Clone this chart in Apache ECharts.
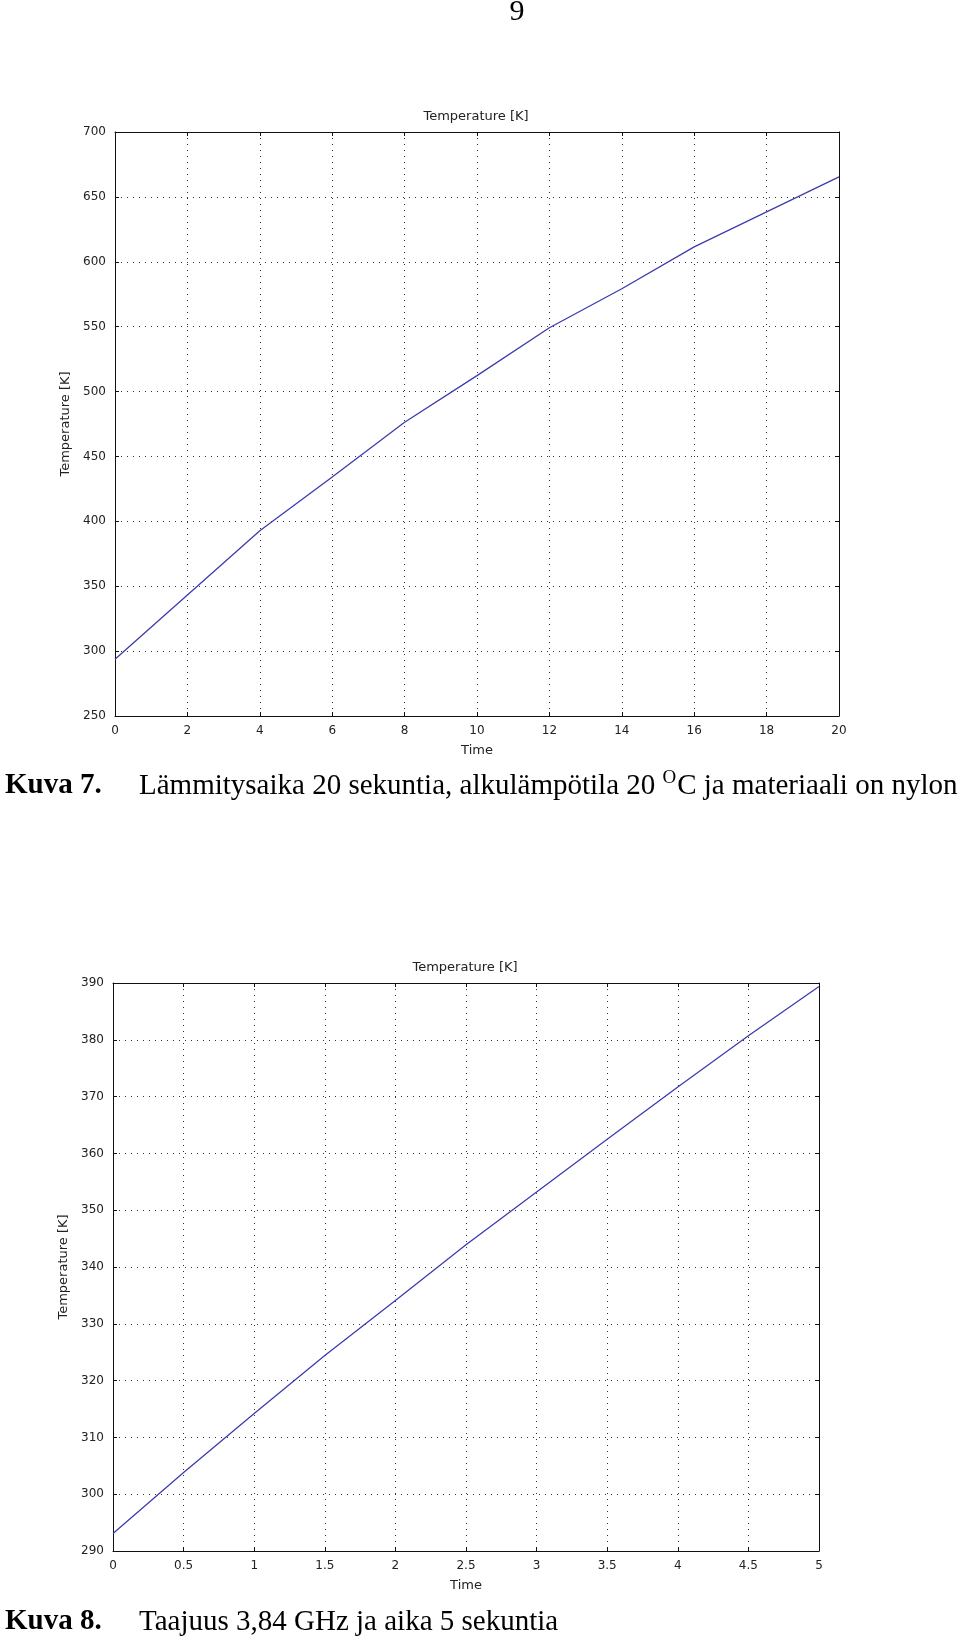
<!DOCTYPE html>
<html>
<head>
<meta charset="utf-8">
<script src="https://cdn.jsdelivr.net/npm/echarts@6/dist/echarts.min.js"></script>
<style>
html,body{margin:0;padding:0;background:#fff;}
#chart{width:960px;height:1640px;}
</style>
</head>
<body>
<div id="chart"></div>
<script>
// ---- Data: Kuva 7 (nylon, 20 s heating) ----
const time1 = [0, 2, 4, 6, 8, 10, 12, 14, 16, 18, 20];
const temp1 = [293.8, 343.3, 392.8, 434.1, 476.4, 512.3, 549.2, 579.2, 611.5, 638.5, 665.4];
const xTicks1 = [0, 2, 4, 6, 8, 10, 12, 14, 16, 18, 20];
const yTicks1 = [250, 300, 350, 400, 450, 500, 550, 600, 650, 700];

// ---- Data: Kuva 8 (3,84 GHz, 5 s) ----
const time2 = [0, 0.5, 1, 1.5, 2, 2.5, 3, 3.5, 4, 4.5, 5];
const temp2 = [293.1, 303.8, 314.2, 324.4, 334.1, 343.9, 353.2, 362.5, 371.7, 380.7, 389.4];
const xTicks2 = [0, 0.5, 1, 1.5, 2, 2.5, 3, 3.5, 4, 4.5, 5];
const yTicks2 = [290, 300, 310, 320, 330, 340, 350, 360, 370, 380, 390];

// ---- Texts ----
const pageNumber = '9';
const plotTitle = 'Temperature [K]';
const xName = 'Time';
const yName = 'Temperature [K]';
const caption1Label = 'Kuva 7.';
const caption1Before = 'Lämmitysaika 20 sekuntia, alkulämpötila 20 ';
const caption1Sup = 'O';
const caption1After = 'C ja materiaali on nylon';
const caption2Label = 'Kuva 8.';
const caption2Text = 'Taajuus 3,84 GHz ja aika 5 sekuntia';

const sansFont = 'DejaVu Sans';
const serifFont = 'Liberation Serif';
const lineColor = '#3c3cae';

function fmt(v){ return String(v); }

function mainX(gridIndex, ticks){
  return {
    type: 'value', gridIndex: gridIndex, position: 'bottom',
    min: ticks[0], max: ticks[ticks.length-1], interval: ticks[1]-ticks[0],
    name: xName, nameLocation: 'middle', nameGap: 28,
    nameTextStyle: {fontFamily: sansFont, fontSize: 13, color: '#222'},
    axisLine: {show: true, onZero: false, lineStyle: {color: '#111', width: 1}},
    axisTick: {show: true, inside: true, length: 4, lineStyle: {color: '#111'}},
    axisLabel: {show: true, margin: 9, fontFamily: sansFont, fontSize: 12, color: '#222', formatter: fmt},
    splitLine: {show: true, lineStyle: {color: '#333', type: [1, 5], width: 1}}
  };
}
function mirrorX(gridIndex, ticks){
  return {
    type: 'value', gridIndex: gridIndex, position: 'top',
    min: ticks[0], max: ticks[ticks.length-1], interval: ticks[1]-ticks[0],
    axisLine: {show: true, onZero: false, lineStyle: {color: '#111', width: 1}},
    axisTick: {show: true, inside: true, length: 4, lineStyle: {color: '#111'}},
    axisLabel: {show: false}, splitLine: {show: false}
  };
}
function mainY(gridIndex, ticks, gap){
  return {
    type: 'value', gridIndex: gridIndex, position: 'left',
    min: ticks[0], max: ticks[ticks.length-1], interval: ticks[1]-ticks[0],
    name: yName, nameLocation: 'middle', nameGap: gap, nameRotate: 90,
    nameTextStyle: {fontFamily: sansFont, fontSize: 13, color: '#222'},
    axisLine: {show: true, onZero: false, lineStyle: {color: '#111', width: 1}},
    axisTick: {show: true, inside: true, length: 4, lineStyle: {color: '#111'}},
    axisLabel: {show: true, margin: 9, fontFamily: sansFont, fontSize: 12, color: '#222', formatter: fmt},
    splitLine: {show: true, lineStyle: {color: '#333', type: [1, 5], width: 1}}
  };
}
function mirrorY(gridIndex, ticks){
  return {
    type: 'value', gridIndex: gridIndex, position: 'right',
    min: ticks[0], max: ticks[ticks.length-1], interval: ticks[1]-ticks[0],
    axisLine: {show: true, onZero: false, lineStyle: {color: '#111', width: 1}},
    axisTick: {show: true, inside: true, length: 4, lineStyle: {color: '#111'}},
    axisLabel: {show: false}, splitLine: {show: false}
  };
}

const chart = echarts.init(document.getElementById('chart'), null, {renderer: 'canvas', width: 960, height: 1640});

const option = {
  backgroundColor: '#fff',
  animation: false,
  grid: [
    {left: 115, top: 132, width: 724, height: 584, containLabel: false},
    {left: 113, top: 983, width: 706, height: 568, containLabel: false}
  ],
  xAxis: [mainX(0, xTicks1), mirrorX(0, xTicks1), mainX(1, xTicks2), mirrorX(1, xTicks2)],
  yAxis: [mainY(0, yTicks1, 36), mirrorY(0, yTicks1), mainY(1, yTicks2, 33), mirrorY(1, yTicks2)],
  series: [
    {
      type: 'line', xAxisIndex: 0, yAxisIndex: 0, showSymbol: false, symbol: 'none',
      lineStyle: {color: lineColor, width: 1.3},
      data: time1.map((t, i) => [t, temp1[i]])
    },
    {
      type: 'line', xAxisIndex: 2, yAxisIndex: 2, showSymbol: false, symbol: 'none',
      lineStyle: {color: lineColor, width: 1.3},
      data: time2.map((t, i) => [t, temp2[i]])
    }
  ],
  graphic: [
    {type: 'text', x: 517, y: 12, style: {text: pageNumber, font: '30px "' + serifFont + '"', fill: '#000', align: 'center', verticalAlign: 'middle'}},
    {type: 'text', x: 476, y: 117, style: {text: plotTitle, font: '13px "' + sansFont + '"', fill: '#222', align: 'center', verticalAlign: 'middle'}},
    {type: 'text', x: 465, y: 968, style: {text: plotTitle, font: '13px "' + sansFont + '"', fill: '#222', align: 'center', verticalAlign: 'middle'}},
    {type: 'text', x: 5, y: 786, style: {text: caption1Label, font: 'bold 29px "' + serifFont + '"', fill: '#000', align: 'left', verticalAlign: 'middle'}},
    {type: 'text', x: 139, y: 786, style: {
      text: '{a|' + caption1Before + '}{s|' + caption1Sup + '}{a|' + caption1After + '}',
      align: 'left', verticalAlign: 'middle',
      rich: {
        a: {fontFamily: serifFont, fontSize: 29, fill: '#000', lineHeight: 35},
        s: {fontFamily: serifFont, fontSize: 19, fill: '#000', lineHeight: 35, padding: [0, 1, 16, 0]}
      }
    }},
    {type: 'text', x: 5, y: 1622, style: {text: caption2Label, font: 'bold 29px "' + serifFont + '"', fill: '#000', align: 'left', verticalAlign: 'middle'}},
    {type: 'text', x: 139, y: 1622, style: {text: caption2Text, font: '29px "' + serifFont + '"', fill: '#000', align: 'left', verticalAlign: 'middle'}}
  ]
};
chart.setOption(option);
</script>
</body>
</html>
